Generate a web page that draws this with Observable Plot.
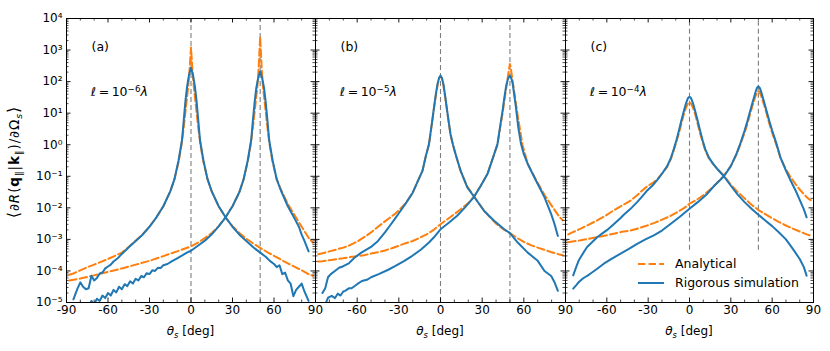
<!DOCTYPE html>
<html><head><meta charset="utf-8">
<script src="https://cdn.jsdelivr.net/npm/d3@7"></script>
<script src="https://cdn.jsdelivr.net/npm/@observablehq/plot@0.6"></script>
<style>
body{margin:0;background:#fff;font-family:"DejaVu Sans",sans-serif;}
#fig{position:relative;width:830px;height:351px;overflow:hidden;background:#fff;}
#fig > svg{position:absolute;top:0;}
.lbl{position:absolute;white-space:nowrap;color:#000;line-height:1;font-family:"DejaVu Sans",sans-serif;}
.lbl sub{font-size:70%;vertical-align:0;position:relative;top:0.35em;}
.lbl sup{font-size:70%;vertical-align:0;position:relative;top:-0.5em;}
.leg svg{display:block;}
</style></head><body><div id="fig"></div><script>
// ---- data: [theta (deg), log10 value] ----
// panel (a)  l = 1e-6 lambda
const a_sim_0 = [[-85,-4.9],[-82,-4.55],[-80,-4.36],[-78,-4.5],[-76,-4.58],[-74,-4.55],[-72,-4.15],[-70,-4.3],[-68,-4.22],[-66,-4.08],[-64,-4.05],[-62,-3.92],[-60,-3.86],[-58,-3.8],[-56,-3.7],[-53,-3.6],[-50,-3.46],[-45,-3.25],[-40,-3.05],[-35,-2.85],[-30,-2.6],[-25,-2.3],[-20,-1.95],[-15,-1.48],[-12,-1.1],[-9,-0.5],[-6.5,0.15],[-5.2,0.8],[-4,1.4],[-2.8,1.85],[-1.5,2.2],[0,2.43],[1.5,2.2],[2.8,1.85],[4,1.4],[5.2,0.8],[6.5,0.15],[9,-0.5],[12,-1.1],[15,-1.48],[20,-1.95],[25,-2.3],[30,-2.6],[35,-2.85],[40,-3.05],[45,-3.25],[50,-3.42],[54,-3.55],[57,-3.68],[60,-3.78],[62,-3.88],[64,-3.82],[66,-4.1],[68,-4.05],[70,-4.3],[72,-4.4],[74,-4.8],[76,-4.6],[78,-4.5],[80,-4.4],[82,-4.65],[85,-4.95]];
const a_sim_50 = [[-85,-5.3],[-82,-5.2],[-80,-5.0],[-78,-5.15],[-76,-5.05],[-74,-5.12],[-72,-4.95],[-70,-5.05],[-68,-4.88],[-66,-4.95],[-64,-4.78],[-62,-4.86],[-60,-4.7],[-58,-4.78],[-56,-4.6],[-54,-4.68],[-52,-4.5],[-50,-4.58],[-48,-4.42],[-46,-4.48],[-44,-4.33],[-42,-4.4],[-40,-4.25],[-38,-4.3],[-36,-4.16],[-34,-4.2],[-32,-4.07],[-30,-4.1],[-28,-3.98],[-26,-4.0],[-24,-3.9],[-22,-3.91],[-20,-3.82],[-17,-3.78],[-14,-3.7],[-10,-3.6],[-6,-3.5],[-3,-3.42],[0,-3.36],[5,-3.2],[10,-3.04],[15,-2.84],[20,-2.59],[25,-2.3],[30,-1.95],[35,-1.5],[38,-1.1],[41,-0.5],[43.5,0.15],[44.8,0.8],[46,1.35],[47.2,1.8],[48.5,2.1],[50,2.33],[51.5,2.1],[52.8,1.8],[54,1.35],[55.2,0.8],[56.5,0.15],[59,-0.5],[62,-1.1],[65,-1.45],[70,-1.95],[75,-2.35],[78,-2.6],[80,-2.85],[82,-3.05],[85,-3.38]];
const a_ana_0 = [[-88,-4.12],[-85,-4.08],[-80,-3.98],[-75,-3.88],[-70,-3.8],[-66,-3.73],[-60,-3.62],[-55,-3.52],[-50,-3.42],[-45,-3.24],[-40,-3.04],[-35,-2.84],[-30,-2.6],[-25,-2.3],[-20,-1.95],[-15,-1.48],[-12,-1.1],[-9,-0.55],[-7,-0.05],[-5.5,0.45],[-4,1.05],[-3,1.45],[-2,1.85],[-1,2.4],[0,3.08],[1,2.4],[2,1.85],[3,1.45],[4,1.05],[5.5,0.45],[7,-0.05],[9,-0.55],[12,-1.1],[15,-1.48],[20,-1.95],[25,-2.3],[30,-2.58],[35,-2.8],[40,-2.98],[45,-3.13],[50,-3.27],[55,-3.4],[60,-3.52],[65,-3.64],[70,-3.76],[75,-3.87],[80,-3.98],[85,-4.1],[88,-4.15]];
const a_ana_50 = [[-88,-4.3],[-80,-4.24],[-70,-4.14],[-60,-4.03],[-50,-3.92],[-40,-3.8],[-30,-3.68],[-20,-3.53],[-10,-3.38],[0,-3.22],[5,-3.1],[10,-2.96],[15,-2.8],[20,-2.58],[25,-2.3],[30,-1.95],[35,-1.5],[38,-1.1],[41,-0.55],[43,-0.05],[44.5,0.45],[46,1.05],[47,1.45],[48,1.85],[49,2.5],[50,3.42],[51,2.5],[52,1.85],[53,1.45],[54,1.05],[55.5,0.45],[57,-0.05],[59,-0.55],[62,-1.1],[65,-1.42],[70,-1.88],[75,-2.24],[80,-2.6],[85,-2.95],[88,-3.1]];
// panel (b)  l = 1e-5 lambda
const b_sim_0 = [[-85,-4.7],[-83,-4.55],[-81,-4.2],[-79,-4.1],[-76,-4.0],[-73,-3.9],[-70,-3.85],[-66,-3.76],[-62,-3.58],[-57,-3.42],[-50,-3.24],[-45,-3.05],[-40,-2.78],[-37,-2.6],[-33,-2.36],[-30,-2.17],[-25,-1.86],[-20,-1.52],[-16,-1.12],[-13,-0.83],[-10.5,-0.35],[-8.3,0.02],[-6,0.75],[-4.5,1.25],[-3.2,1.65],[-2,1.95],[-1,2.12],[0,2.19],[1,2.12],[2.2,1.9],[3.5,1.5],[4.8,1.08],[6,0.7],[7.2,0.34],[9,0.0],[10.9,-0.3],[14.5,-0.83],[19.3,-1.35],[24.2,-1.65],[31.4,-2.1],[38.6,-2.41],[45.9,-2.68],[50,-2.8],[55.6,-3.1],[62.8,-3.42],[70,-3.68],[74.9,-4.0],[79.7,-4.16],[82,-4.35],[84.5,-4.63]];
const b_sim_50 = [[-85,-5.15],[-83,-5.06],[-81,-4.85],[-78.3,-4.79],[-76,-4.86],[-74,-4.72],[-72,-4.78],[-70,-4.65],[-68.7,-4.63],[-66,-4.55],[-64,-4.55],[-60,-4.42],[-56.6,-4.32],[-53,-4.28],[-50,-4.2],[-44.5,-4.1],[-38,-3.97],[-32.4,-3.84],[-26,-3.68],[-20.3,-3.52],[-14,-3.32],[-8.3,-3.1],[-4,-2.9],[0,-2.68],[6,-2.47],[12,-2.25],[18,-1.97],[24.2,-1.65],[29,-1.3],[33.8,-0.93],[37.5,-0.45],[41,0.02],[43,0.6],[44.7,1.08],[46,1.5],[47.1,1.82],[48.5,2.08],[50,2.19],[51,2.1],[52,1.93],[53,1.6],[54.3,1.19],[56,0.55],[58,0.02],[60,-0.3],[62.8,-0.61],[68.8,-1.14],[74.9,-1.67],[79.7,-2.2],[82,-2.5],[84.5,-2.89]];
const b_ana_0 = [[-88,-3.47],[-85,-3.44],[-80,-3.38],[-75,-3.32],[-70,-3.26],[-66,-3.2],[-60,-3.07],[-55,-2.93],[-50,-2.78],[-45,-2.6],[-40,-2.43],[-37,-2.33],[-33,-2.2],[-30,-2.08],[-25,-1.85],[-20,-1.52],[-16,-1.12],[-13,-0.83],[-10.5,-0.35],[-8.3,0.0],[-6,0.72],[-4.5,1.2],[-3.2,1.6],[-2,1.92],[-1,2.1],[0,2.17],[1,2.1],[2.2,1.86],[3.5,1.46],[4.8,1.05],[6,0.68],[7.2,0.32],[9,-0.02],[10.9,-0.32],[14.5,-0.83],[19.3,-1.33],[24.2,-1.64],[30,-2.0],[35,-2.27],[40,-2.5],[45,-2.67],[50,-2.8],[55,-2.95],[60,-3.08],[65,-3.18],[70,-3.26],[75,-3.33],[80,-3.41],[85,-3.47],[88,-3.5]];
const b_ana_50 = [[-88,-3.7],[-85,-3.69],[-80,-3.66],[-75,-3.63],[-70,-3.6],[-65,-3.56],[-60,-3.53],[-55,-3.5],[-50,-3.45],[-44.5,-3.4],[-40,-3.35],[-35,-3.28],[-30,-3.2],[-25,-3.12],[-20,-3.05],[-15,-2.95],[-10,-2.84],[-5,-2.7],[0,-2.52],[5,-2.36],[10,-2.2],[15,-2.03],[20,-1.85],[24.2,-1.64],[29,-1.3],[33.8,-0.93],[37.5,-0.45],[41,0.0],[43,0.55],[44.7,1.0],[46,1.4],[47.3,1.8],[48.5,2.15],[49.3,2.4],[50,2.56],[50.7,2.4],[51.5,2.15],[52.7,1.8],[54,1.4],[55.3,1.0],[57,0.55],[59,0.0],[62.8,-0.6],[68.8,-1.12],[75,-1.6],[80,-1.93],[85,-2.25],[88,-2.4]];
// panel (c)  l = 1e-4 lambda
const c_sim_0 = [[-84.4,-4.14],[-82,-3.85],[-80.3,-3.66],[-77,-3.42],[-74.3,-3.24],[-70,-3.06],[-67,-2.93],[-63,-2.8],[-59.7,-2.7],[-55,-2.52],[-50,-2.32],[-47.7,-2.22],[-43,-2.04],[-38,-1.82],[-34,-1.62],[-30.7,-1.45],[-27,-1.3],[-23.5,-1.12],[-20,-0.92],[-16.2,-0.68],[-13.5,-0.42],[-11.4,-0.14],[-9.5,0.14],[-7.7,0.44],[-6,0.75],[-4.1,1.07],[-2.5,1.32],[-1.2,1.47],[0,1.52],[1.2,1.47],[2.5,1.32],[4.1,1.07],[6,0.75],[7.7,0.44],[9.5,0.14],[11.4,-0.14],[14,-0.4],[17,-0.6],[20,-0.76],[25,-1.0],[30,-1.3],[35,-1.58],[40,-1.82],[45,-2.03],[50,-2.22],[55,-2.4],[60,-2.58],[65,-2.78],[70,-3.0],[75,-3.3],[80,-3.62],[83,-3.88],[85,-4.15]];
const c_sim_50 = [[-84.4,-4.56],[-82,-4.44],[-80.3,-4.35],[-78,-4.26],[-76,-4.2],[-74,-4.15],[-71.8,-4.08],[-67,-3.93],[-62.2,-3.77],[-56,-3.6],[-50,-3.45],[-44,-3.3],[-38,-3.14],[-32,-3.0],[-25.9,-2.87],[-20,-2.72],[-13.8,-2.51],[-7,-2.28],[0,-2.03],[6,-1.82],[12.8,-1.56],[18,-1.3],[25,-1.0],[30,-0.68],[34,-0.3],[37,0.05],[40,0.45],[42,0.74],[44,1.06],[46,1.38],[48,1.68],[49,1.8],[50,1.85],[51,1.8],[52,1.68],[54,1.38],[56,1.06],[58,0.74],[60,0.45],[63,0.05],[66,-0.4],[70,-0.82],[73,-1.1],[77,-1.45],[80,-1.75],[83,-2.05],[85,-2.3]];
const c_ana_0 = [[-88,-2.84],[-85,-2.78],[-79,-2.66],[-73,-2.53],[-67,-2.4],[-61,-2.25],[-55,-2.08],[-49,-1.93],[-42.8,-1.77],[-38,-1.6],[-33,-1.4],[-30,-1.3],[-27,-1.22],[-23.5,-1.1],[-20,-0.92],[-16.2,-0.7],[-13.5,-0.45],[-11.4,-0.17],[-9.5,0.1],[-7.7,0.36],[-6,0.65],[-4.1,0.97],[-2.5,1.18],[-1.2,1.3],[0,1.34],[1.2,1.3],[2.5,1.18],[4.1,0.97],[6,0.65],[7.7,0.36],[9.5,0.1],[11.4,-0.17],[14,-0.42],[17,-0.6],[20,-0.76],[25,-0.98],[30,-1.27],[35,-1.5],[40,-1.7],[45,-1.9],[50,-2.07],[55,-2.2],[60,-2.33],[65,-2.45],[70,-2.56],[75,-2.66],[80,-2.75],[85,-2.84],[88,-2.88]];
const c_ana_50 = [[-88,-3.09],[-85,-3.07],[-79,-3.03],[-73,-2.98],[-67,-2.93],[-61,-2.88],[-55,-2.82],[-49,-2.76],[-42.8,-2.72],[-37,-2.65],[-30.7,-2.56],[-25,-2.47],[-18.6,-2.35],[-14,-2.26],[-9,-2.14],[-4,-2.01],[0,-1.87],[5,-1.75],[10,-1.6],[15,-1.42],[20,-1.21],[25,-0.98],[30,-0.67],[34,-0.32],[37,0.02],[40,0.38],[42,0.66],[44,0.98],[46,1.28],[48,1.55],[49,1.66],[50,1.7],[51,1.66],[52,1.55],[54,1.28],[56,0.98],[58,0.66],[60,0.38],[63,0.0],[66,-0.42],[70,-0.78],[73,-1.0],[77,-1.25],[80,-1.42],[83,-1.57],[86,-1.7],[88,-1.76]];

// incidence-angle markers and their lower ends
const incidence = [0, 50];
const markerBottom = [1e-5, 1e-5, 4.5e-4];
// axis ticks
const xMajor = [-90, -60, -30, 0, 30, 60, 90];
const xMinor = [-80, -70, -50, -40, -20, -10, 10, 20, 40, 50, 70, 80];
const xLabelTicks = [[-90, -60, -30, 0, 30, 60, 90], [-60, -30, 0, 30, 60, 90], [-60, -30, 0, 30, 60, 90]];
const yDecades = [1e-5, 1e-4, 1e-3, 1e-2, 1e-1, 1e0, 1e1, 1e2, 1e3, 1e4];
const panelLetters = ["(a)", "(b)", "(c)"];
const lengthExp = ["−6", "−5", "−4"];
const legendLabels = ["Analytical", "Rigorous simulation"];

const ORANGE = "#ff7f0e", BLUE = "#1f77b4";
const yMinor = [];
for (const d of yDecades.slice(0, -1)) for (let m = 2; m <= 9; m++) yMinor.push(m * d);

const panels = [
  {sim: [a_sim_0, a_sim_50], ana: [a_ana_0, a_ana_50]},
  {sim: [b_sim_0, b_sim_50], ana: [b_ana_0, b_ana_50]},
  {sim: [c_sim_0, c_sim_50], ana: [c_ana_0, c_ana_50]}
];
const LEFT = [0, 314, 564], W = [316, 252, 266], ML = [66, 1, 1], MR = [1, 1, 17];
const H = 351, MT = 18, MB = 49;
const supMap = {"-": "⁻", "0": "⁰", "1": "¹", "2": "²", "3": "³", "4": "⁴", "5": "⁵", "6": "⁶", "7": "⁷", "8": "⁸", "9": "⁹"};
const decadeFmt = d => "10" + String(Math.round(Math.log10(d))).split("").map(c => supMap[c]).join("");

const fig = document.getElementById("fig");
panels.forEach((p, i) => {
  const pw = W[i] - ML[i] - MR[i], ph = H - MT - MB;
  const marks = [
    Plot.ruleX(incidence, {x: d => d, y1: markerBottom[i], y2: 1e4, stroke: "#7f7f7f", strokeWidth: 1.1, strokeDasharray: "5,3"}),
    ...p.ana.map(s => Plot.line(s, {x: d => d[0], y: d => 10 ** d[1], stroke: ORANGE, strokeWidth: 2, strokeDasharray: "7.4,3.2", clip: true})),
    ...p.sim.map(s => Plot.line(s, {x: d => d[0], y: d => 10 ** d[1], stroke: BLUE, strokeWidth: 2, clip: true})),
    Plot.frame({stroke: "black", strokeWidth: 1}),
    // inward ticks
    Plot.ruleY(yDecades, {y: d => d, insetRight: pw - 4.5, stroke: "black", strokeWidth: 0.9}),
    Plot.ruleY(yDecades, {y: d => d, insetLeft: pw - 4.5, stroke: "black", strokeWidth: 0.9}),
    Plot.ruleY(yMinor, {y: d => d, insetRight: pw - 2.5, stroke: "black", strokeWidth: 0.7}),
    Plot.ruleY(yMinor, {y: d => d, insetLeft: pw - 2.5, stroke: "black", strokeWidth: 0.7}),
    Plot.ruleX(xMajor, {x: d => d, insetTop: ph - 4.5, stroke: "black", strokeWidth: 0.9}),
    Plot.ruleX(xMajor, {x: d => d, insetBottom: ph - 4.5, stroke: "black", strokeWidth: 0.9}),
    Plot.ruleX(xMinor, {x: d => d, insetTop: ph - 2.5, stroke: "black", strokeWidth: 0.7}),
    Plot.ruleX(xMinor, {x: d => d, insetBottom: ph - 2.5, stroke: "black", strokeWidth: 0.7}),
    Plot.axisX({ticks: xLabelTicks[i], tickSize: 0, tickPadding: 3, tickFormat: d => String(d), label: null, fontSize: 12}),
    Plot.text([panelLetters[i]], {frameAnchor: "top-left", dx: 25, dy: 24, textAnchor: "start", fontSize: 12.5})
  ];
  if (i === 0) marks.push(Plot.axisY({ticks: yDecades, tickSize: 0, tickPadding: 4, tickFormat: decadeFmt, label: null, fontSize: 12}));
  const svg = Plot.plot({
    width: W[i], height: H,
    marginLeft: ML[i], marginRight: MR[i], marginTop: MT, marginBottom: MB,
    style: {background: "transparent", fontFamily: "DejaVu Sans", fontSize: "12px", overflow: "visible"},
    x: {domain: [-90, 90], label: null},
    y: {type: "log", domain: [1e-5, 1e4], label: null, axis: i === 0 ? undefined : null},
    marks
  });
  svg.style.left = LEFT[i] + "px";
  svg.style.position = "absolute";
  fig.appendChild(svg);

  const x0 = LEFT[i] + ML[i], cx = x0 + pw / 2;
  const ell = document.createElement("div");
  ell.className = "lbl";
  ell.style.cssText = `left:${x0 + 25}px;top:92px;transform:translateY(-50%);font-size:12.5px;`;
  ell.innerHTML = `<i>ℓ</i>\u2009=\u200910<sup>${lengthExp[i]}</sup><i>λ</i>`;
  fig.appendChild(ell);

  const xl = document.createElement("div");
  xl.className = "lbl";
  xl.style.cssText = `left:${cx}px;top:331px;transform:translate(-50%,-50%);font-size:12px;`;
  xl.innerHTML = `<i>θ</i><sub><i>s</i></sub> [deg]`;
  fig.appendChild(xl);
});

const yl = document.createElement("div");
yl.className = "lbl";
yl.style.cssText = "left:14px;top:162px;transform:translate(-50%,-50%) rotate(-90deg);font-size:13.5px;letter-spacing:0.9px;";
yl.innerHTML = `<span style="font-size:120%">⟨</span>∂<i>R</i>(<b>q</b><sub>∥</sub>|<b>k</b><sub>∥</sub>)/∂Ω<sub><i>s</i></sub><span style="font-size:120%">⟩</span>`;
fig.appendChild(yl);

// legend
const leg = document.createElement("div");
leg.className = "lbl leg";
leg.style.cssText = "left:637px;top:255px;font-size:12.5px;";
leg.innerHTML = `
<div style="display:flex;align-items:center;height:18.5px"><svg width="27" height="6"><line x1="1" x2="27" y1="3" y2="3" stroke="${ORANGE}" stroke-width="2" stroke-dasharray="7.4,3.2"/></svg><span style="margin-left:11px">${legendLabels[0]}</span></div>
<div style="display:flex;align-items:center;height:18.5px"><svg width="27" height="6"><line x1="1" x2="27" y1="3" y2="3" stroke="${BLUE}" stroke-width="2"/></svg><span style="margin-left:11px">${legendLabels[1]}</span></div>`;
fig.appendChild(leg);
</script></body></html>
